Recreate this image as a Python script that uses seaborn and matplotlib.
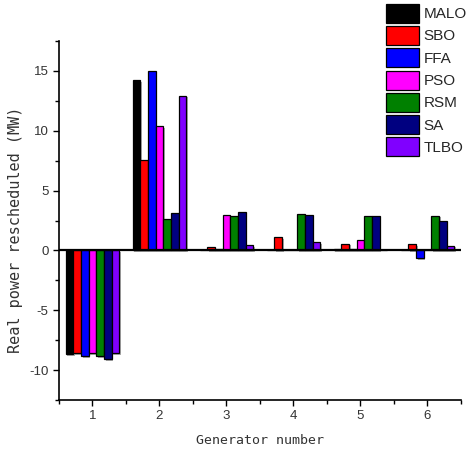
import pandas as pd
import matplotlib
matplotlib.use('Agg')
import matplotlib.pyplot as plt
import matplotlib.patheffects as pe
from matplotlib.patches import Patch
from matplotlib.ticker import MultipleLocator, FixedLocator
import seaborn as sns

# Data
generators = ['1', '2', '3', '4', '5', '6']
methods = ['MALO', 'SBO', 'FFA', 'PSO', 'RSM', 'SA', 'TLBO']
colors = ['#000000', '#FF0000', '#0000FF', '#FF00FF', '#008000', '#000080', '#8000FF']

malo = [-8.68, 14.23, 0.0, 0.0, 0.1, 0.02]
sbo = [-8.6, 7.55, 0.3, 1.09, 0.56, 0.5]
ffa = [-8.83, 14.99, 0.1, 0.05, 0.15, -0.62]
pso = [-8.6, 10.39, 3.0, 0.0, 0.86, 0.0]
rsm = [-8.83, 2.62, 2.9, 3.06, 2.9, 2.92]
sa = [-9.1, 3.15, 3.23, 2.95, 2.92, 2.45]
tlbo = [-8.6, 12.95, 0.42, 0.72, 0.0, 0.39]

series = [malo, sbo, ffa, pso, rsm, sa, tlbo]
rows = []
for m, vals in zip(methods, series):
    for g, v in zip(generators, vals):
        rows.append({'Generator': g, 'Value': v, 'Method': m})
df = pd.DataFrame(rows)

sns.set_style('white')
plt.rcParams['axes.unicode_minus'] = False
fig = plt.figure(figsize=(4.69, 4.59), dpi=100)
ax = fig.add_axes([0.1258, 0.1285, 0.857, 0.782])

sns.barplot(data=df, x='Generator', y='Value', hue='Method', order=generators,
            hue_order=methods, palette=colors, edgecolor='black', linewidth=0.9,
            width=0.8, saturation=1, errorbar=None, legend=False, ax=ax)

# Origin-style drop shadow on the bars
shadow = [pe.SimplePatchShadow(offset=(1.2, -1.2), shadow_rgbFace='#888888', alpha=0.7), pe.Normal()]
for p in ax.patches:
    p.set_path_effects(shadow)

ax.axhline(0, color='black', lw=1.6, zorder=5)

ax.set_xlim(-0.5, 5.5)
ax.set_ylim(-12.5, 17.5)
ax.yaxis.set_major_locator(FixedLocator([-10, -5, 0, 5, 10, 15]))
ax.yaxis.set_minor_locator(MultipleLocator(2.5))
ax.xaxis.set_minor_locator(MultipleLocator(0.5))

for side in ['top', 'right']:
    ax.spines[side].set_visible(False)
for side in ['left', 'bottom']:
    ax.spines[side].set_color('black')
    ax.spines[side].set_linewidth(1.2)

ax.tick_params(axis='both', which='major', direction='out', length=4, width=1,
               color='black', labelsize=9.5, labelcolor='#333333', bottom=True, left=True)
ax.tick_params(axis='both', which='minor', direction='out', length=3, width=1,
               color='black', bottom=True, left=True)
for lab in ax.get_xticklabels() + ax.get_yticklabels():
    lab.set_family('Liberation Sans')

ax.set_xlabel('Generator number', family='DejaVu Sans Mono', fontsize=9.5,
              color='#333333', labelpad=8)
ax.set_ylabel('Real power rescheduled (MW)', family='DejaVu Sans Mono',
              fontsize=11, color='#333333')
ax.yaxis.set_label_coords(-0.09, 0.475)

handles = [Patch(facecolor=c, edgecolor='black', linewidth=0.9) for c in colors]
fig.legend(handles, methods, loc='upper left', bbox_to_anchor=(0.822, 0.992),
           frameon=False, prop={'family': 'Liberation Sans', 'size': 11},
           handlelength=2.16, handleheight=1.53, labelspacing=0.22,
           handletextpad=0.33, borderpad=0.0, borderaxespad=0.0)

fig.savefig('out.png', dpi=100)
